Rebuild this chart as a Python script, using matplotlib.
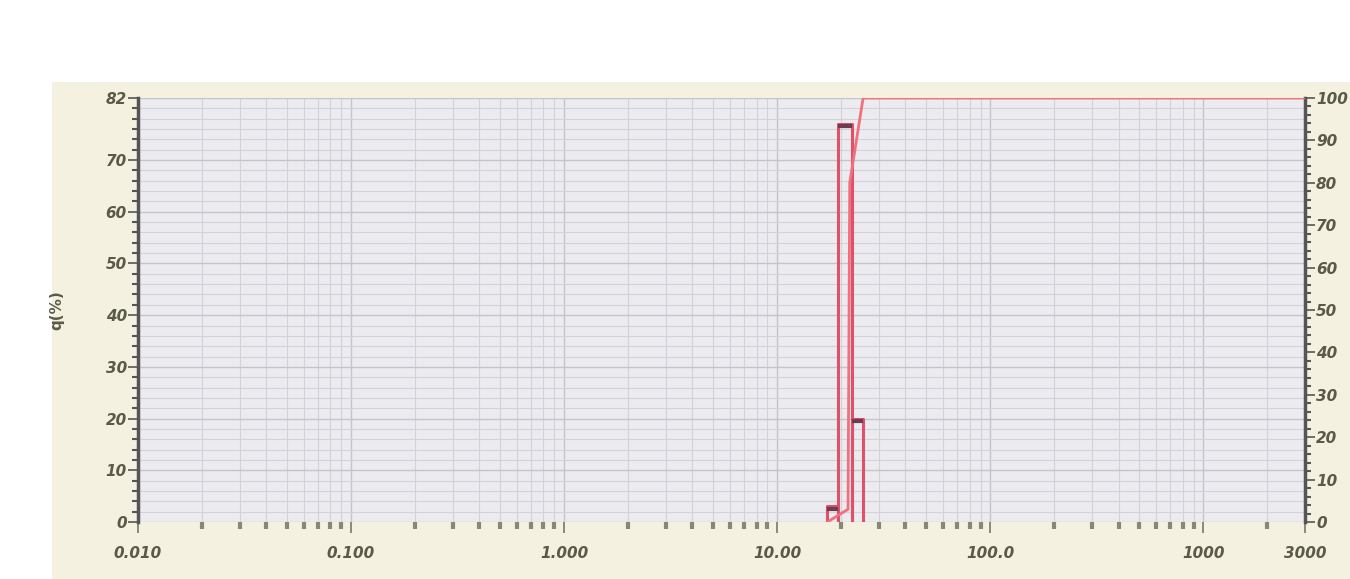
import matplotlib
matplotlib.use("Agg")
import matplotlib.pyplot as plt
from matplotlib.patches import Rectangle
import numpy as np

# data
bin_edges = [17.2, 19.3, 22.4, 25.3]
q_values = [3.0, 77.0, 20.0]
cum_x = [17.2, 21.5, 21.9, 25.3, 3000]
cum_y = [0.0, 3.0, 80.0, 100.0, 100.0]
x_ticks = [0.01, 0.1, 1, 10, 100, 1000, 3000]
x_tick_labels = ["0.010", "0.100", "1.000", "10.00", "100.0", "1000", "3000"]
left_ticks = [0, 10, 20, 30, 40, 50, 60, 70, 82]
right_ticks = [0, 10, 20, 30, 40, 50, 60, 70, 80, 90, 100]

W, H = 1350, 579
fig = plt.figure(figsize=(W / 100, H / 100), dpi=100)
fig.patch.set_facecolor("white")
bg = Rectangle((52 / W, 0), 1 - 52 / W, 1 - 82 / H,
               transform=fig.transFigure, facecolor="#f4f1e1",
               edgecolor="none", zorder=-5)
fig.add_artist(bg)

ax = fig.add_axes([138 / W, 1 - 522 / H, (1305 - 138) / W, (522 - 98) / H])
ax.set_facecolor("#ebebf0")
ax.set_xscale("log")
ax.set_xlim(0.01, 3000)
ax.set_ylim(0, 82)

# grid
ax.set_yticks(np.arange(0, 83, 2), minor=True)
ax.grid(which="major", axis="both", color="#c4c4ca", lw=1.0)
ax.grid(which="minor", axis="both", color="#d2d2d8", lw=0.8)
ax.set_axisbelow(True)

# bars
lab_col = "#5a5a48"
for i, q in enumerate(q_values):
    x0, x1 = bin_edges[i], bin_edges[i + 1]
    ax.plot([x0, x0, x1, x1], [0, q, q, 0], color="#e05068", lw=2.2, zorder=3)
    ax.plot([x0 * 1.02, x1 / 1.02], [q - 0.5, q - 0.5], color="#6a4050", lw=3, zorder=4)

# cumulative on right axis
ax2 = ax.twinx()
ax2.set_ylim(0, 100)
ax2.plot(cum_x, cum_y, color="#f07080", lw=2.0, zorder=3)

# ticks
ax.set_xticks(x_ticks)
ax.set_xticklabels(x_tick_labels)
ax.set_yticks(left_ticks)
ax.set_yticklabels([str(t) for t in left_ticks])
ax2.set_yticks(right_ticks)
ax2.set_yticklabels([str(t) for t in right_ticks])
ax2.set_yticks(np.arange(0, 101, 2), minor=True)

for a in (ax, ax2):
    for s in a.spines.values():
        s.set_visible(False)
ax.spines["left"].set_visible(True)
ax.spines["left"].set_color("#555555")
ax.spines["left"].set_linewidth(2.5)
ax2.spines["right"].set_visible(True)
ax2.spines["right"].set_color("#555555")
ax2.spines["right"].set_linewidth(2.5)

ax.tick_params(axis="y", which="major", length=7, width=1.2, color="#555555", pad=1)
ax.tick_params(axis="y", which="minor", length=4, width=1.5, color="#555555")
ax2.tick_params(axis="y", which="major", length=7, width=1.2, color="#555555", pad=1)
ax2.tick_params(axis="y", which="minor", length=4, width=1.5, color="#555555")
ax.tick_params(axis="x", which="major", length=8, width=1.2, color="#777766", pad=9, direction="out")
ax.tick_params(axis="x", which="minor", length=5, width=3, color="#888877", direction="out")
for lab in ax.get_xticklabels() + ax.get_yticklabels() + ax2.get_yticklabels():
    lab.set_fontsize(11)
    lab.set_fontstyle("italic")
    lab.set_fontweight("bold")
    lab.set_color(lab_col)

ax.set_ylabel("q(%)", fontsize=11, fontweight="bold", color=lab_col, labelpad=30)

fig.savefig("out.png", dpi=100)
